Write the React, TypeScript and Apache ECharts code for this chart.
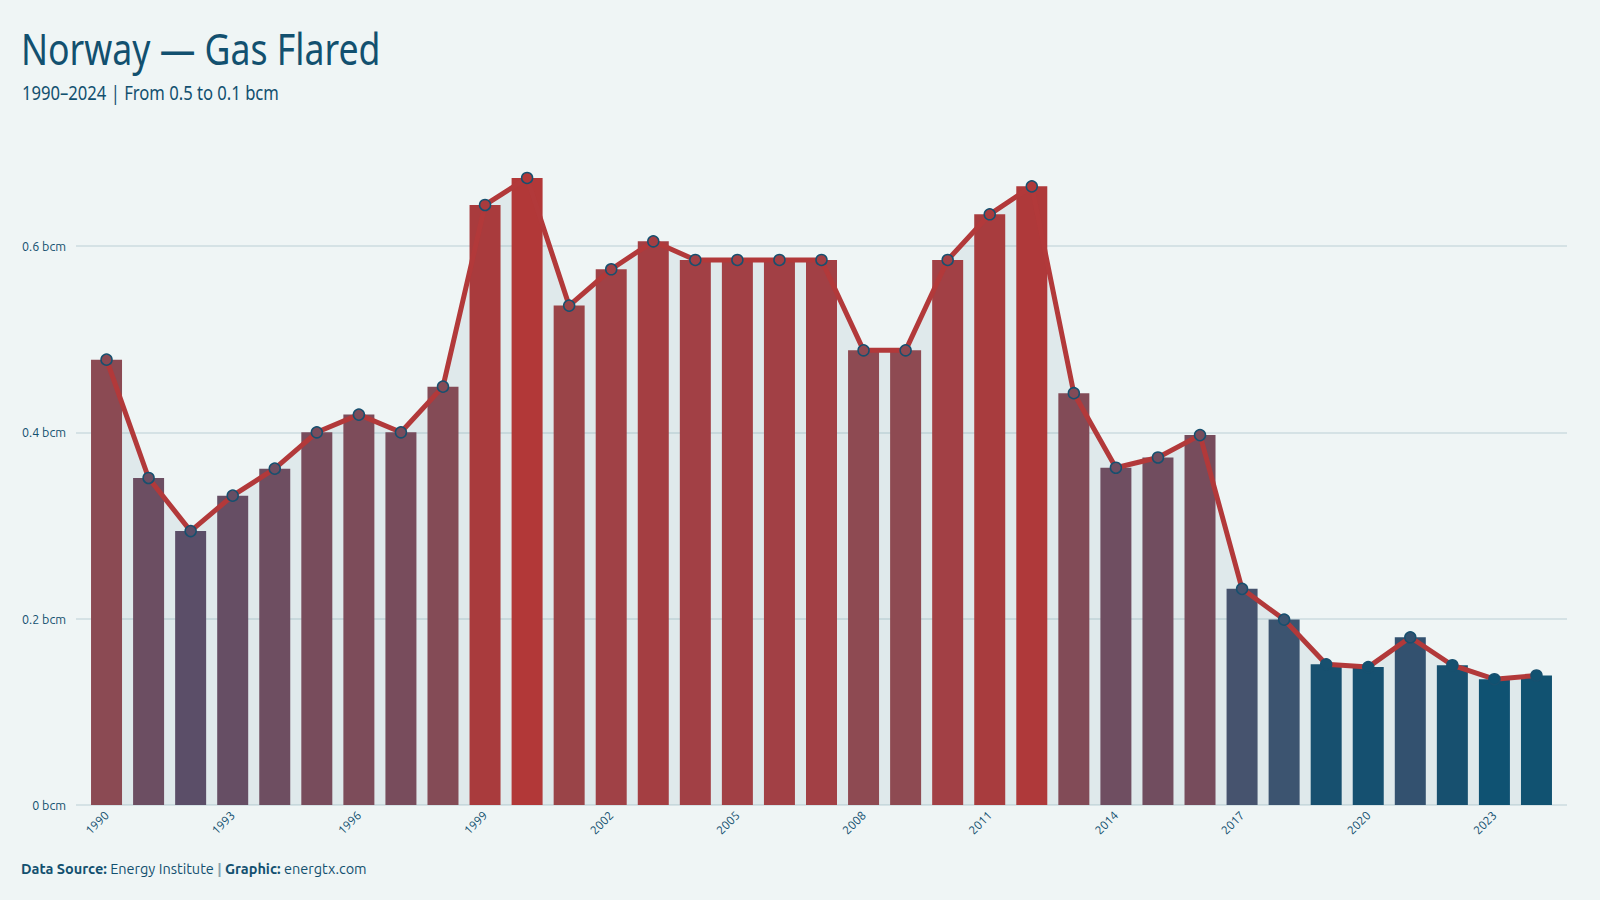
import React, { useEffect, useRef } from "react";
import * as echarts from "echarts";

// Norway gas flared, billion cubic metres per year
const years = [
  "1990", "1991", "1992", "1993", "1994", "1995", "1996", "1997", "1998", "1999",
  "2000", "2001", "2002", "2003", "2004", "2005", "2006", "2007", "2008", "2009",
  "2010", "2011", "2012", "2013", "2014", "2015", "2016", "2017", "2018", "2019",
  "2020", "2021", "2022", "2023", "2024",
];
const gasFlared = [
  0.478, 0.351, 0.294, 0.332, 0.361, 0.4, 0.419, 0.4, 0.449, 0.644,
  0.673, 0.536, 0.575, 0.605, 0.585, 0.585, 0.585, 0.585, 0.488, 0.488,
  0.585, 0.634, 0.664, 0.442, 0.362, 0.373, 0.397, 0.232, 0.199, 0.151,
  0.148, 0.18, 0.15, 0.135, 0.139,
];
const yTickValues = [0, 0.2, 0.4, 0.6];

// value -> colour ramp (blue for low flaring, red for high)
const colorRamp: [number, string][] = [
  [0.135, "#0f5272"],
  [0.151, "#17506f"],
  [0.18, "#33516f"],
  [0.199, "#3c5470"],
  [0.232, "#46536e"],
  [0.293, "#5b4e68"],
  [0.351, "#6c4e62"],
  [0.4, "#784c5c"],
  [0.449, "#844b56"],
  [0.488, "#8e4a52"],
  [0.536, "#9a4448"],
  [0.585, "#a24045"],
  [0.644, "#a93b3d"],
  [0.673, "#b23838"],
];

const hexToRgb = (h: string) => [
  parseInt(h.slice(1, 3), 16),
  parseInt(h.slice(3, 5), 16),
  parseInt(h.slice(5, 7), 16),
];

function rampColor(v: number): string {
  if (v <= colorRamp[0][0]) return colorRamp[0][1];
  for (let i = 1; i < colorRamp.length; i++) {
    const [v1, c1] = colorRamp[i];
    if (v <= v1) {
      const [v0, c0] = colorRamp[i - 1];
      const t = (v - v0) / (v1 - v0);
      const a = hexToRgb(c0);
      const b = hexToRgb(c1);
      const m = a.map((x, k) => Math.round(x + (b[k] - x) * t));
      return `rgb(${m[0]},${m[1]},${m[2]})`;
    }
  }
  return colorRamp[colorRamp.length - 1][1];
}

const INK = "#12506f";
const BG = "#eff5f5";
const LINE_RED = "#b2393a";
const FONT = "'Ubuntu', 'Noto Sans', 'DejaVu Sans', sans-serif";
const TITLE_FONT = "'Ubuntu Condensed', 'Noto Sans', 'DejaVu Sans', sans-serif";

export default function App() {
  const ref = useRef<HTMLDivElement>(null);

  useEffect(() => {
    if (!ref.current) return;
    const chart = echarts.init(ref.current, undefined, { renderer: "svg" });

    const option: echarts.EChartsOption = {
      animation: false,
      backgroundColor: BG,
      grid: [
        // reference grid: tick labels and gridlines
        { left: 76, right: 33, top: 246, bottom: 95 },
        // data grid
        { left: 85.5, right: 42.5, top: 152.8, bottom: 95 },
      ],
      xAxis: [
        { type: "category", gridIndex: 0, data: years, show: false },
        {
          type: "category",
          gridIndex: 1,
          data: years,
          axisLine: { show: false },
          axisTick: { show: false },
          axisLabel: {
            interval: 2,
            rotate: 45,
            margin: 8,
            color: INK,
            fontSize: 12,
            fontFamily: FONT,
          },
        },
      ],
      yAxis: [
        {
          type: "value",
          gridIndex: 0,
          min: 0,
          max: 0.6,
          interval: 0.2,
          axisLine: { show: false },
          axisTick: { show: false },
          axisLabel: {
            margin: 10,
            color: INK,
            fontSize: 12.5,
            fontFamily: FONT,
            formatter: (v: number) => {
              const hit = yTickValues.find((t) => Math.abs(t - v) < 1e-9);
              return hit === undefined ? "" : `${hit} bcm`;
            },
          },
          splitLine: { lineStyle: { color: "#d5e2e5", width: 2 } },
        },
        {
          type: "value",
          gridIndex: 1,
          min: 0,
          max: 0.7,
          show: false,
          splitLine: { show: false },
        },
      ],
      series: [
        {
          name: "area",
          type: "line",
          xAxisIndex: 1,
          yAxisIndex: 1,
          data: gasFlared,
          symbol: "none",
          lineStyle: { width: 0 },
          areaStyle: { color: "rgba(15,82,114,0.1)" },
          z: 1,
          silent: true,
        },
        {
          name: "bars",
          type: "bar",
          xAxisIndex: 1,
          yAxisIndex: 1,
          barWidth: 31,
          data: gasFlared.map((v) => ({ value: v, itemStyle: { color: rampColor(v) } })),
          z: 2,
        },
        {
          name: "line",
          type: "line",
          xAxisIndex: 1,
          yAxisIndex: 1,
          data: gasFlared.map((v) => ({ value: v, itemStyle: { color: rampColor(v) } })),
          symbol: "circle",
          symbolSize: 11,
          lineStyle: { color: LINE_RED, width: 5 },
          itemStyle: { borderColor: "#17506f", borderWidth: 1.5 },
          z: 3,
        },
      ],
      graphic: [
        {
          type: "text",
          x: 21,
          y: 26,
          scaleX: 0.81,
          style: {
            text: "Norway — Gas Flared",
            font: `44px ${TITLE_FONT}`,
            fill: INK,
            verticalAlign: "top",
          },
        },
        {
          type: "text",
          x: 22,
          y: 83,
          scaleX: 0.875,
          style: {
            text: "1990–2024 | From 0.5 to 0.1 bcm",
            font: `19px ${TITLE_FONT}`,
            fill: INK,
            verticalAlign: "top",
          },
        },
        {
          type: "text",
          x: 21,
          y: 861,
          style: {
            text: "{b|Data Source:} Energy Institute {s||} {b|Graphic:} energtx.com",
            font: `14.5px ${FONT}`,
            fill: INK,
            verticalAlign: "top",
            rich: {
              b: { fontWeight: "bold", fontSize: 14.5, fontFamily: FONT, fill: INK },
              s: { fontWeight: "bold", fontSize: 14.5, fontFamily: FONT, fill: "#8aa3b1" },
            },
          } as any,
        },
      ],
    };

    chart.setOption(option);
    return () => chart.dispose();
  }, []);

  return (
    <div
      ref={ref}
      style={{ position: "absolute", left: 0, top: 0, width: 1600, height: 900 }}
    />
  );
}
